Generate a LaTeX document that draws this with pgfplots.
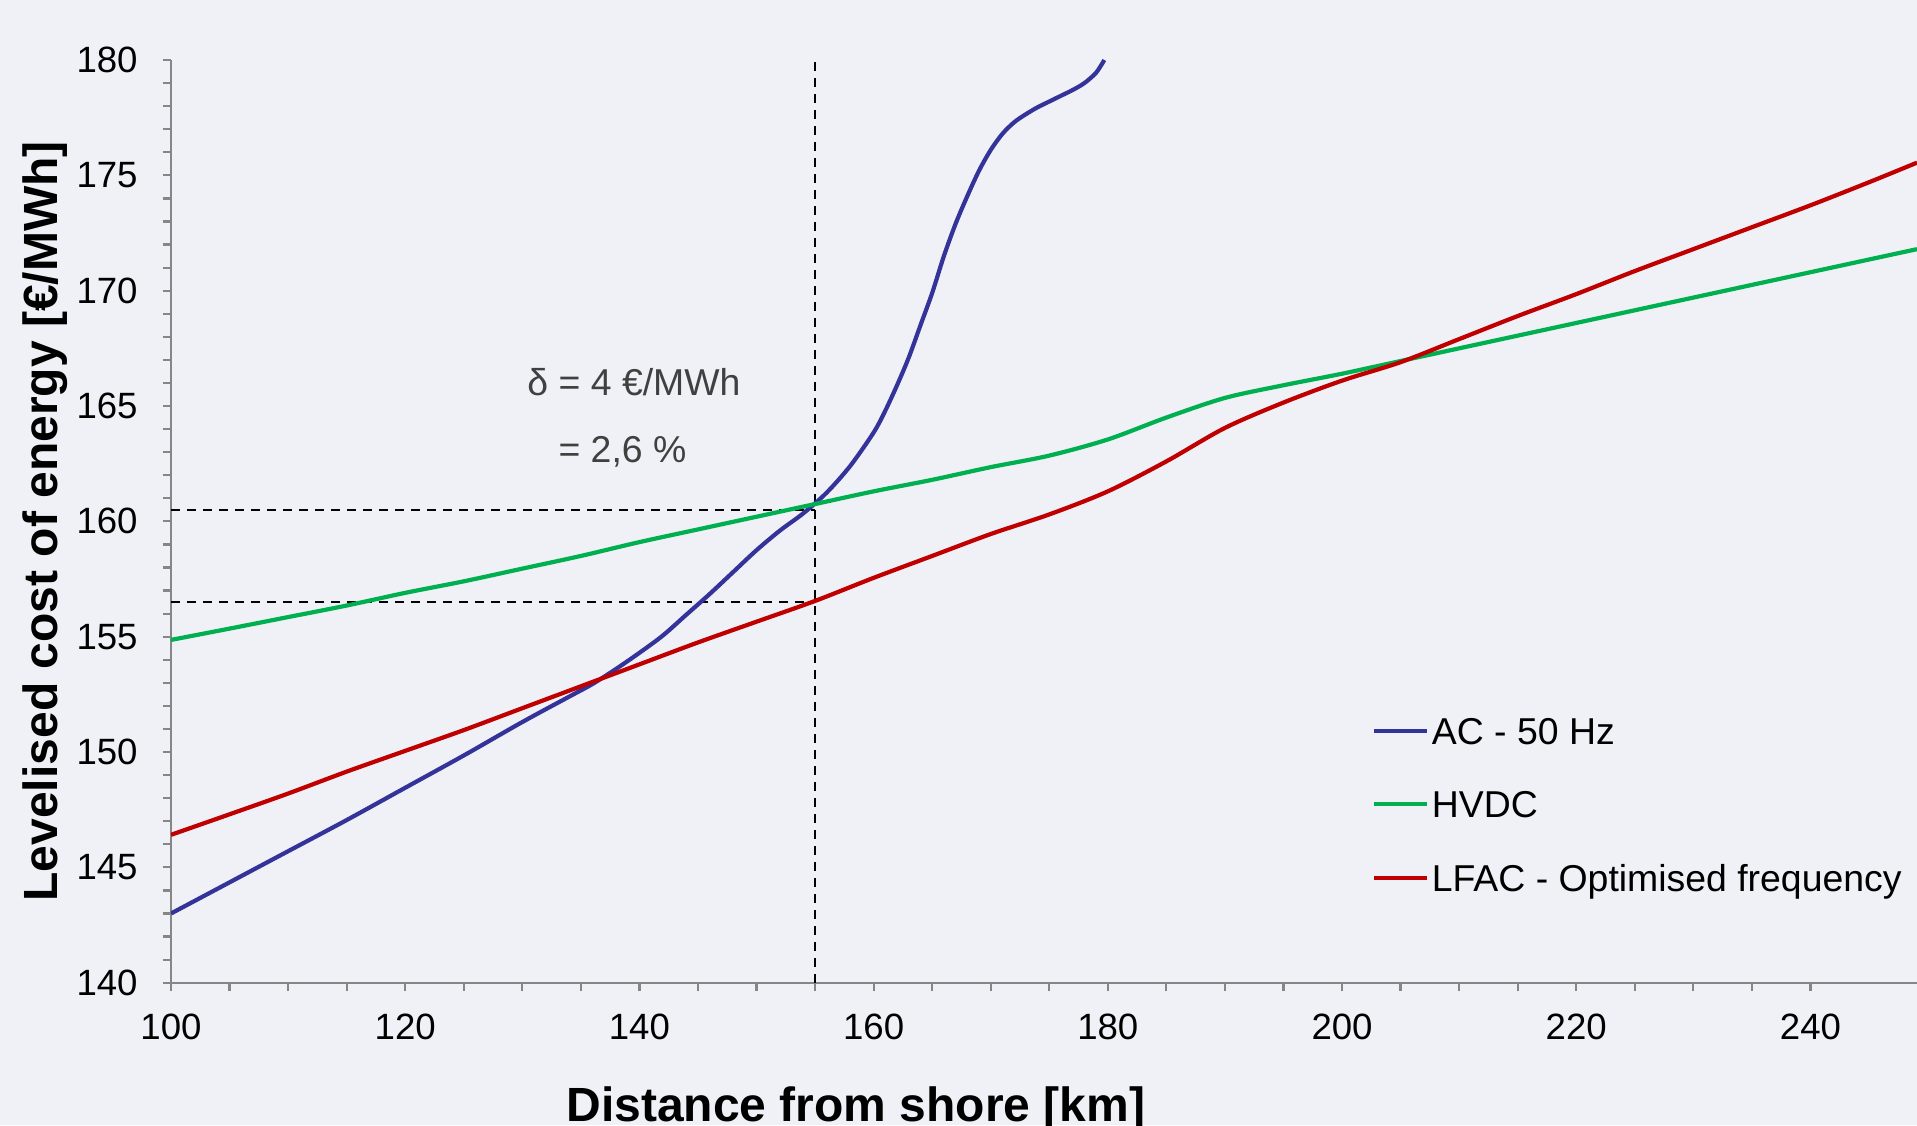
\documentclass[border=0pt]{standalone}
\usepackage{pgfplots}
\pgfplotsset{compat=1.18}
\usepackage{fontspec}
\setmainfont{Liberation Sans}
\usetikzlibrary{calc}
\definecolor{bg}{RGB}{240,241,246}
\definecolor{acblue}{RGB}{51,51,153}
\definecolor{hvdcgreen}{RGB}{0,176,80}
\definecolor{lfacred}{RGB}{192,0,0}
\definecolor{axisgray}{RGB}{134,134,134}
\definecolor{annot}{RGB}{64,64,64}
\begin{document}
\begin{tikzpicture}
\fill[bg] (-85.5pt,-71.15pt) rectangle (873pt,491.35pt);
\begin{axis}[
 at={(0,0)}, anchor=south west,
 scale only axis, width=873pt, height=461.35pt,
 xmin=100, xmax=249.1, ymin=140, ymax=180,
 axis x line=bottom, axis y line=left,
 axis line style={axisgray, line width=1.1pt, -},
 tick style={axisgray, line width=1.1pt},
 tick align=outside,
 major tick length=4.2pt, minor tick length=4.2pt,
 xtick={100,120,...,240}, minor x tick num=3,
 ytick={140,145,...,180}, minor y tick num=4,
 ticklabel style={font=\fontsize{18.3}{22}\selectfont, inner sep=0pt},
 xticklabel style={anchor=north, yshift=-11.4pt},
 yticklabel style={anchor=east, xshift=-12.3pt},
 /pgf/number format/assume math mode=true,
 clip mode=individual,
 legend style={draw=none, fill=none, at={(axis cs:202.53,151.48)}, anchor=north west,
   inner sep=0pt, row sep=19.75pt, font=\fontsize{18.7}{22.4}\selectfont,
   nodes={inner sep=0pt, text height=13pt, text depth=4pt}},
 legend cell align=left,
 legend image code/.code={\draw[#1, line width=2.1pt] (0pt,2.2pt) -- (26.5pt,2.2pt); \path (27.8pt,0pt);},
]
\addplot[black, line width=1.1pt, dash pattern=on 4.5pt off 3.5pt, forget plot] coordinates {(155,140) (155,180)};
\addplot[black, line width=1.1pt, dash pattern=on 4.5pt off 3.5pt, forget plot] coordinates {(100,160.5) (155,160.5)};
\addplot[black, line width=1.1pt, dash pattern=on 4.5pt off 3.5pt, forget plot] coordinates {(100,156.5) (155,156.5)};

\addplot[acblue, line width=2.1pt, smooth] coordinates {
(100,143.0) (105,144.35) (110,145.7) (115,147.05) (120,148.45) (125,149.85) (130,151.3)
(134,152.4) (136,152.95) (138,153.6) (140,154.3) (142,155.05) (144,155.95) (146,156.85)
(148,157.8) (150,158.75) (152,159.6) (154,160.35) (156,161.25) (158,162.4) (160,163.85)
(161,164.8) (162,165.9) (163,167.1) (164,168.5) (165,169.9) (166,171.5) (167,172.9)
(168,174.1) (169,175.2) (170,176.1) (171,176.8) (172,177.3) (173,177.65) (174,177.95)
(175,178.2) (176,178.45) (177,178.7) (178,179.0) (179,179.45) (179.7,180.0)};
\addlegendentry{AC - 50 Hz}

\addplot[hvdcgreen, line width=2.1pt, smooth] coordinates {
(100,154.86) (105,155.35) (110,155.85) (115,156.35) (120,156.9) (125,157.4) (130,157.95)
(135,158.5) (140,159.1) (145,159.65) (150,160.2) (155,160.75) (160,161.3) (165,161.8)
(170,162.35) (175,162.85) (180,163.55) (185,164.5) (190,165.35) (195,165.9) (200,166.4)
(205,166.95) (210,167.5) (215,168.05) (220,168.6) (225,169.15) (230,169.7) (235,170.25)
(240,170.8) (245,171.35) (249.1,171.8)};
\addlegendentry{HVDC}

\addplot[lfacred, line width=2.1pt, smooth] coordinates {
(100,146.41) (105,147.3) (110,148.2) (115,149.15) (120,150.05) (125,150.95) (130,151.9)
(135,152.85) (140,153.8) (145,154.75) (150,155.65) (155,156.55) (160,157.55) (165,158.5)
(170,159.45) (175,160.3) (180,161.3) (185,162.6) (190,164.05) (195,165.15) (200,166.1)
(205,166.9) (210,167.9) (215,168.9) (220,169.85) (225,170.85) (230,171.8) (235,172.75)
(240,173.7) (245,174.7) (249.1,175.55)};
\addlegendentry{LFAC - Optimised frequency}

\node[anchor=base west, inner sep=0pt, text=annot, font=\fontsize{18.7}{22.4}\selectfont] at (axis cs:130.4,165.44) {δ = 4 €/MWh};
\node[anchor=base west, inner sep=0pt, text=annot, font=\fontsize{18.7}{22.4}\selectfont] at (axis cs:133.06,162.53) {= 2,6 \%};
\coordinate (xlab) at (axis cs:133.74,140);
\coordinate (ylab) at (rel axis cs:0,0.5);
\end{axis}
\node[anchor=base west, inner sep=0pt, font=\bfseries\fontsize{24}{28.8}\selectfont] at ($(xlab)+(0,-69.15pt)$) {Distance from shore [km]};
\node[rotate=90, anchor=center, inner sep=0pt, font=\bfseries\fontsize{24}{28.8}\selectfont] at ($(ylab)+(-62.75pt,0)$) {Levelised cost of energy [€/MWh]};
\pgfresetboundingbox
\useasboundingbox (-85.5pt,-71.15pt) rectangle (873pt,491.35pt);
\end{tikzpicture}
\end{document}
